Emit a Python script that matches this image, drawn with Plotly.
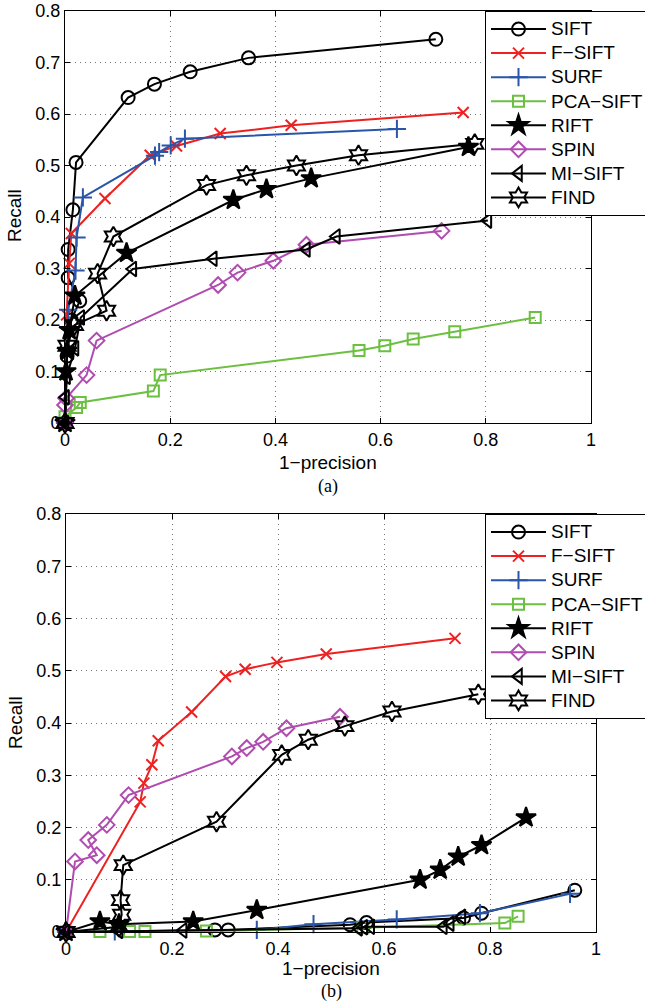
import plotly.graph_objects as go

names = ["SIFT", "F\u2212SIFT", "SURF", "PCA\u2212SIFT", "RIFT", "SPIN", "MI\u2212SIFT", "FIND"]
colors = ["#000000", "#ee2020", "#2a55a8", "#6cc040", "#000000", "#b04cb0", "#000000", "#000000"]
symbols = ["circle-open", "x-thin-open", "cross-thin-open", "square-open", "star", "diamond-open", "triangle-left-open", "hexagram-open"]
sizes = [13, 11, 13, 11, 15, 12, 13, 15]

# ---- (a) ----
a_sift_x = [0, 0.004, 0.012, 0.028, 0.006, 0.006, 0.015, 0.021, 0.120, 0.170, 0.238, 0.349, 0.705]
a_sift_y = [0, 0.13, 0.20, 0.237, 0.282, 0.337, 0.414, 0.506, 0.632, 0.658, 0.682, 0.709, 0.745]
a_fsift_x = [0, 0.003, 0.008, 0.012, 0.076, 0.162, 0.212, 0.295, 0.430, 0.757]
a_fsift_y = [0, 0.21, 0.31, 0.368, 0.436, 0.520, 0.538, 0.562, 0.578, 0.603]
a_surf_x = [0, 0.006, 0.020, 0.022, 0.034, 0.171, 0.179, 0.201, 0.228, 0.631]
a_surf_y = [0, 0.22, 0.296, 0.360, 0.438, 0.519, 0.526, 0.539, 0.552, 0.571]
a_pca_x = [0, 0.0, 0.022, 0.029, 0.168, 0.181, 0.559, 0.608, 0.662, 0.741, 0.894]
a_pca_y = [0, 0.012, 0.030, 0.040, 0.062, 0.093, 0.141, 0.150, 0.163, 0.177, 0.205]
a_rift_x = [0, 0.002, 0.004, 0.008, 0.019, 0.117, 0.320, 0.383, 0.468, 0.767]
a_rift_y = [0, 0.10, 0.14, 0.18, 0.247, 0.330, 0.433, 0.454, 0.475, 0.536]
a_spin_x = [0, 0.0, 0.002, 0.041, 0.060, 0.291, 0.328, 0.396, 0.459, 0.716]
a_spin_y = [0, 0.035, 0.048, 0.093, 0.160, 0.268, 0.292, 0.315, 0.346, 0.373]
a_misift_x = [0, 0.001, 0.003, 0.019, 0.030, 0.129, 0.282, 0.459, 0.516, 0.804]
a_misift_y = [0, 0.05, 0.09, 0.145, 0.205, 0.299, 0.319, 0.337, 0.362, 0.393]
a_find_x = [0, 0.004, 0.018, 0.079, 0.062, 0.092, 0.269, 0.345, 0.440, 0.558, 0.779]
a_find_y = [0, 0.15, 0.19, 0.218, 0.290, 0.362, 0.462, 0.481, 0.500, 0.520, 0.542]

# ---- (b) ----
b_sift_x = [0, 0.281, 0.306, 0.536, 0.567, 0.750, 0.784, 0.960]
b_sift_y = [0, 0.004, 0.004, 0.014, 0.018, 0.027, 0.036, 0.080]
b_fsift_x = [0, 0.140, 0.147, 0.162, 0.174, 0.237, 0.301, 0.338, 0.398, 0.491, 0.734]
b_fsift_y = [0, 0.249, 0.285, 0.320, 0.366, 0.421, 0.489, 0.503, 0.516, 0.532, 0.562]
b_surf_x = [0, 0.092, 0.360, 0.467, 0.624, 0.781, 0.951]
b_surf_y = [0, 0.001, 0.004, 0.015, 0.024, 0.036, 0.073]
b_pca_x = [0, 0.064, 0.120, 0.149, 0.265, 0.560, 0.828, 0.853]
b_pca_y = [0, 0.001, 0.001, 0.001, 0.002, 0.008, 0.017, 0.030]
b_rift_x = [0, 0.064, 0.100, 0.240, 0.360, 0.668, 0.706, 0.740, 0.784, 0.868]
b_rift_y = [0, 0.020, 0.015, 0.020, 0.042, 0.100, 0.119, 0.144, 0.166, 0.219]
b_spin_x = [0, 0.017, 0.058, 0.042, 0.077, 0.118, 0.313, 0.341, 0.372, 0.416, 0.517]
b_spin_y = [0, 0.135, 0.147, 0.176, 0.205, 0.262, 0.336, 0.352, 0.364, 0.390, 0.412]
b_misift_x = [0, 0.100, 0.221, 0.552, 0.562, 0.575, 0.712, 0.725, 0.747]
b_misift_y = [0, 0.002, 0.003, 0.007, 0.009, 0.010, 0.010, 0.016, 0.029]
b_find_x = [0, 0.100, 0.105, 0.103, 0.108, 0.284, 0.407, 0.457, 0.526, 0.615, 0.778]
b_find_y = [0, 0.010, 0.033, 0.061, 0.128, 0.211, 0.339, 0.368, 0.394, 0.422, 0.455]

a_series = [(a_sift_x, a_sift_y), (a_fsift_x, a_fsift_y), (a_surf_x, a_surf_y), (a_pca_x, a_pca_y),
            (a_rift_x, a_rift_y), (a_spin_x, a_spin_y), (a_misift_x, a_misift_y), (a_find_x, a_find_y)]
b_series = [(b_sift_x, b_sift_y), (b_fsift_x, b_fsift_y), (b_surf_x, b_surf_y), (b_pca_x, b_pca_y),
            (b_rift_x, b_rift_y), (b_spin_x, b_spin_y), (b_misift_x, b_misift_y), (b_find_x, b_find_y)]

x_ticks = [0, 0.2, 0.4, 0.6, 0.8, 1]
x_ticktext = ["0", "0.2", "0.4", "0.6", "0.8", "1"]
y_ticks = [0, 0.1, 0.2, 0.3, 0.4, 0.5, 0.6, 0.7, 0.8]
y_ticktext = ["0", "0.1", "0.2", "0.3", "0.4", "0.5", "0.6", "0.7", "0.8"]

W, H = 645, 1006
FONT = "Liberation Sans, Arial, sans-serif"
fig = go.Figure()

def add(series, xa, ya, leg):
    for i, (xs, ys) in enumerate(series):
        c = colors[i]
        fig.add_trace(go.Scatter(
            x=xs, y=ys, mode="lines+markers",
            name="<span style='font-size:19px'>" + names[i] + "</span>",
            xaxis=xa, yaxis=ya, legend=leg, cliponaxis=False,
            line=dict(color=c, width=2),
            marker=dict(symbol=symbols[i], size=sizes[i], color=c,
                        line=dict(color=c, width=2)),
        ))

add(a_series, "x", "y", "legend")
add(b_series, "x2", "y2", "legend2")

axis_common = dict(showline=True, mirror="allticks", linecolor="black", linewidth=1,
                   ticks="inside", ticklen=5, tickcolor="black",
                   showgrid=True, gridcolor="#777777", gridwidth=1, griddash="1px,4px",
                   zeroline=False, ticklabeloverflow="allow",
                   tickfont=dict(family=FONT, size=18, color="black"))

top_dom_y = [1 - 423 / H, 1 - 11 / H]
bot_dom_y = [1 - 932 / H, 1 - 514 / H]

leg_common = dict(xanchor="left", yanchor="top",
                  bgcolor="white", bordercolor="black", borderwidth=1,
                  font=dict(family=FONT, size=16.2, color="black"),
                  itemwidth=55, tracegroupgap=0)

fig.update_layout(
    width=W, height=H, margin=dict(l=0, r=0, t=0, b=0, autoexpand=False),
    paper_bgcolor="white", plot_bgcolor="white",
    xaxis=dict(domain=[65 / W, 591 / W], range=[0, 1], tickvals=x_ticks, ticktext=x_ticktext,
               anchor="y", **axis_common),
    yaxis=dict(domain=top_dom_y, range=[0, 0.8], tickvals=y_ticks, ticktext=y_ticktext,
               anchor="x", **axis_common),
    xaxis2=dict(domain=[66 / W, 596 / W], range=[0, 1], tickvals=x_ticks, ticktext=x_ticktext,
                anchor="y2", **axis_common),
    yaxis2=dict(domain=bot_dom_y, range=[0, 0.8], tickvals=y_ticks, ticktext=y_ticktext,
                anchor="x2", **axis_common),
    legend=dict(x=485 / W, y=1 - 11 / H, **leg_common),
    legend2=dict(x=485 / W, y=1 - 514 / H, **leg_common),
    showlegend=True,
)

ann_font = dict(family=FONT, size=19, color="black")
serif_font = dict(family="Liberation Serif", size=18, color="black")
fig.add_annotation(text="Recall", x=15 / W, y=1 - 216 / H, xref="paper", yref="paper",
                   textangle=-90, showarrow=False, font=ann_font, xanchor="center", yanchor="middle")
fig.add_annotation(text="Recall", x=15 / W, y=1 - 723 / H, xref="paper", yref="paper",
                   textangle=-90, showarrow=False, font=ann_font, xanchor="center", yanchor="middle")
fig.add_annotation(text="1\u2212precision", x=328 / W, y=1 - 462 / H, xref="paper", yref="paper",
                   showarrow=False, font=ann_font, xanchor="center", yanchor="middle")
fig.add_annotation(text="1\u2212precision", x=331 / W, y=1 - 968 / H, xref="paper", yref="paper",
                   showarrow=False, font=ann_font, xanchor="center", yanchor="middle")
fig.add_annotation(text="(a)", x=328 / W, y=1 - 486 / H, xref="paper", yref="paper",
                   showarrow=False, font=serif_font, xanchor="center", yanchor="middle")
fig.add_annotation(text="(b)", x=331 / W, y=1 - 991 / H, xref="paper", yref="paper",
                   showarrow=False, font=serif_font, xanchor="center", yanchor="middle")

fig.write_html("out.html", config={"displayModeBar": False},
               post_script="document.body.style.margin='0px';")
